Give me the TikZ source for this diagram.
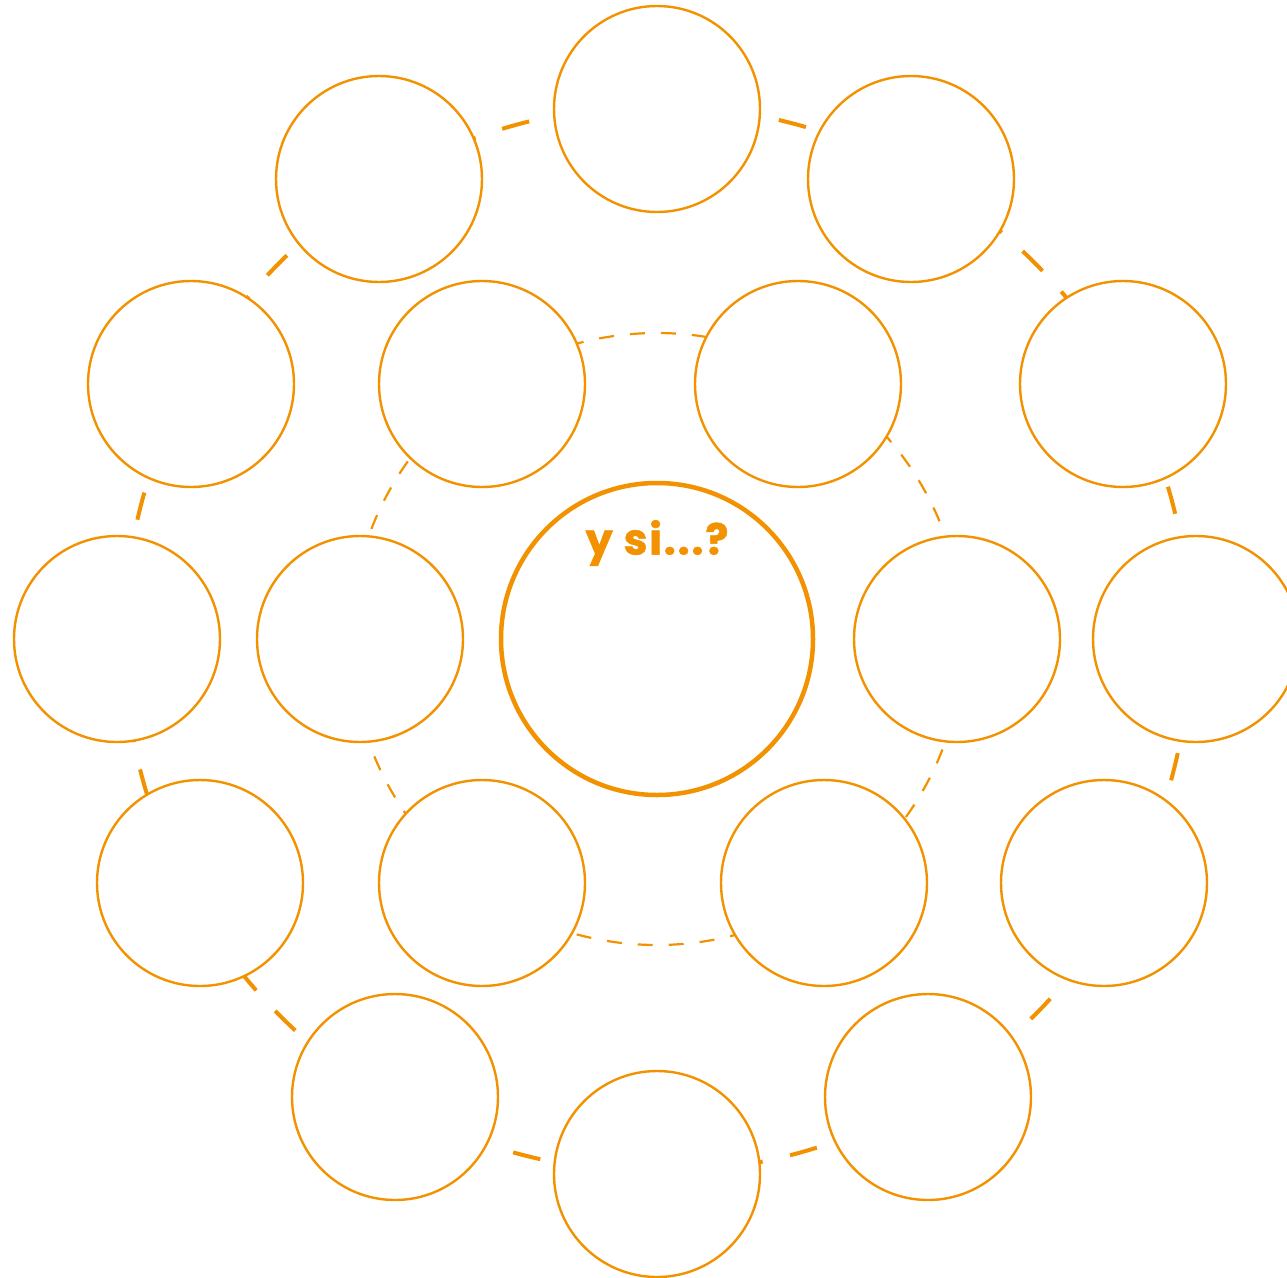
\documentclass[tikz,border=0pt]{standalone}
\usepackage{fontspec}
\newfontfamily\askfont{Poppins}[UprightFont=* Bold,FakeBold=1.2,LetterSpace=4]
\definecolor{tangerine}{RGB}{243,146,0}

\begin{document}
\begin{tikzpicture}[
  x=1pt, y=-1pt,
  bubble/.style={circle,draw=tangerine,line width=2.4pt,fill=white,minimum size=206pt,inner sep=0pt},
  core/.style={circle,draw=tangerine,line width=4.5pt,fill=white,minimum size=312pt,inner sep=0pt},
  outer ring/.style={draw=tangerine,line width=4pt,dash pattern=on 28pt off 28pt,dash phase=53pt},
  inner ring/.style={draw=tangerine,line width=2.2pt,dash pattern=on 15pt off 16pt,dash phase=11pt},
  asktext/.style={text=tangerine,font=\askfont\fontsize{43}{48}\selectfont}
]
  \useasboundingbox (0,0) rectangle (1287,1277);

  % rings behind the bubbles
  \coordinate (c) at (657,639);
  \draw[outer ring] (c) circle[radius=533];
  \draw[inner ring] (c) circle[radius=306];

  % inner bubbles
  \foreach \p [count=\i] in {(482,384),(798,384),(957,639),(824,883),(482,883),(360,639)}
    \node[bubble] (inner\i) at \p {};

  % outer bubbles
  \foreach \p [count=\i] in {(657,109),(911,179),(1123,384),(1196,639),(1104,883),(928,1097),
      (657,1174),(395,1097),(200,883),(117,639),(191,384),(379,179)}
    \node[bubble] (outer\i) at \p {};

  \node[core] (center) at (c) {};
  \node[asktext] (ask) at (657,543) {y si...?};
\end{tikzpicture}
\end{document}
